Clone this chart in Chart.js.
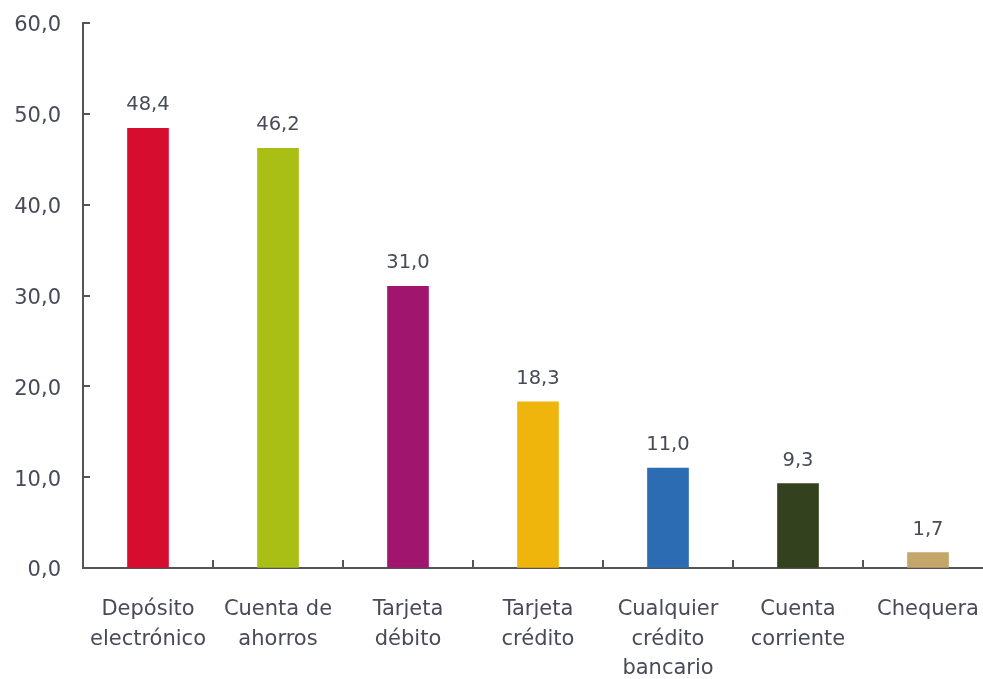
<!DOCTYPE html>
<html>
<head>
    <meta charset="UTF-8">
    <title>Productos financieros</title>
    <script src="https://cdn.jsdelivr.net/npm/chart.js"></script>
    <style>
        html, body {
            margin: 0;
            padding: 0;
            background: #ffffff;
            overflow: hidden;
        }
        #wrap {
            width: 1000px;
            height: 679px;
        }
    </style>
</head>
<body>
    <div id="wrap">
        <canvas id="myChart" width="1000" height="679"></canvas>
    </div>

    <script>
        const categorias = [
            ['Depósito', 'electrónico'],
            ['Cuenta de', 'ahorros'],
            ['Tarjeta', 'débito'],
            ['Tarjeta', 'crédito'],
            ['Cualquier', 'crédito', 'bancario'],
            ['Cuenta', 'corriente'],
            ['Chequera']
        ];
        const valores = [48.4, 46.2, 31.0, 18.3, 11.0, 9.3, 1.7];
        const colores = ['#D70D2F', '#A9BF16', '#A0166F', '#F0B50C', '#2B6CB3', '#33411F', '#C4A66C'];
        const ticksY = [0, 10, 20, 30, 40, 50, 60];

        const FUENTE = "'DejaVu Sans', sans-serif";
        const GRIS_TEXTO = '#474b58';
        const GRIS_EJE = '#555555';

        function formato(v) {
            return v.toFixed(1).replace('.', ',');
        }

        // etiquetas encima de las barras
        const etiquetas = {
            id: 'etiquetas',
            afterDatasetsDraw(chart) {
                const ctx = chart.ctx;
                const meta = chart.getDatasetMeta(0);
                ctx.save();
                ctx.font = '19.5px ' + FUENTE;
                ctx.fillStyle = GRIS_TEXTO;
                ctx.textAlign = 'center';
                ctx.textBaseline = 'alphabetic';
                meta.data.forEach((bar, i) => {
                    ctx.fillText(formato(valores[i]), bar.x, bar.y - 18);
                });
                ctx.restore();
            }
        };

        // marcas de los ejes hacia adentro
        const marcas = {
            id: 'marcas',
            afterDraw(chart) {
                const ctx = chart.ctx;
                const x = chart.scales.x;
                const y = chart.scales.y;
                ctx.save();
                ctx.strokeStyle = GRIS_EJE;
                ctx.lineWidth = 2;
                ctx.beginPath();
                ticksY.forEach(v => {
                    const py = Math.round(y.getPixelForValue(v));
                    ctx.moveTo(x.left, py);
                    ctx.lineTo(x.left + 7, py);
                });
                for (let i = 1; i < categorias.length; i++) {
                    const px = Math.round((x.getPixelForValue(i - 1) + x.getPixelForValue(i)) / 2);
                    ctx.moveTo(px, y.bottom);
                    ctx.lineTo(px, y.bottom - 8);
                }
                ctx.stroke();
                ctx.restore();
            }
        };

        const ctx = document.getElementById('myChart').getContext('2d');
        new Chart(ctx, {
            type: 'bar',
            data: {
                labels: categorias,
                datasets: [{
                    data: valores,
                    backgroundColor: colores,
                    barThickness: 41
                }]
            },
            options: {
                responsive: false,
                animation: false,
                layout: {
                    padding: { top: 23, right: 7, left: 0, bottom: 0 }
                },
                plugins: {
                    legend: { display: false },
                    tooltip: { enabled: false }
                },
                scales: {
                    x: {
                        grid: { display: false },
                        border: { color: GRIS_EJE, width: 2 },
                        ticks: {
                            color: GRIS_TEXTO,
                            font: { family: FUENTE, size: 21, lineHeight: 1.4 },
                            padding: 19,
                            maxRotation: 0,
                            autoSkip: false
                        },
                        afterFit(scale) {
                            scale.height = 111;
                            scale.paddingLeft = 0;
                            scale.paddingRight = 0;
                        }
                    },
                    y: {
                        min: 0,
                        max: 60,
                        grid: { drawOnChartArea: false, drawTicks: false },
                        border: { color: GRIS_EJE, width: 2 },
                        ticks: {
                            stepSize: 10,
                            color: GRIS_TEXTO,
                            font: { family: FUENTE, size: 21 },
                            padding: 22,
                            labelOffset: 3,
                            callback: v => formato(v)
                        },
                        afterFit(scale) {
                            scale.width = 83;
                            scale.paddingTop = 0;
                            scale.paddingBottom = 0;
                        }
                    }
                }
            },
            plugins: [etiquetas, marcas]
        });
    </script>
</body>
</html>
